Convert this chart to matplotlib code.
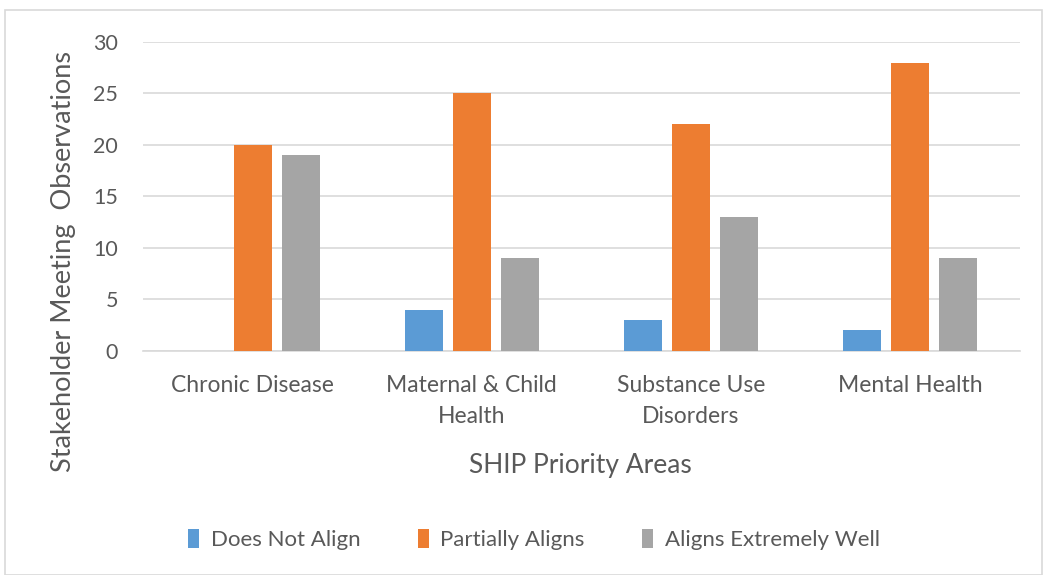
import numpy as np
import matplotlib.pyplot as plt
from matplotlib.patches import Rectangle

categories = ["Chronic Disease", "Maternal & Child\nHealth", "Substance Use\nDisorders", "Mental Health"]
series_names = ["Does Not Align", "Partially Aligns", "Aligns Extremely Well"]
does_not_align = [0, 4, 3, 2]
partially_aligns = [20, 25, 22, 28]
aligns_well = [19, 9, 13, 9]
colors = ["#5B9BD5", "#ED7D31", "#A5A5A5"]
txt = "#595959"

plt.rcParams['font.family'] = ['Lato', 'DejaVu Sans']

fig = plt.figure(figsize=(10.47, 5.75), dpi=100)
ax = fig.add_axes([0.1366, 0.3896, 0.8374, 0.5374])

x = np.arange(len(categories))
w = 0.173
pitch = 0.22
for i, (vals, name) in enumerate(zip([does_not_align, partially_aligns, aligns_well], series_names)):
    ax.bar(x + (i - 1) * pitch, vals, width=w, color=colors[i], label=name, zorder=3)

ax.set_xlim(-0.5, 3.5)
ax.set_ylim(0, 30)
ax.set_yticks(range(0, 31, 5))
ax.yaxis.grid(True, color="#D9D9D9", linewidth=1.2, zorder=0)
for s in ["top", "right", "left"]:
    ax.spines[s].set_visible(False)
ax.spines["bottom"].set_color("#D9D9D9")
ax.spines["bottom"].set_linewidth(1.2)
ax.tick_params(axis="both", length=0, colors=txt)
ax.tick_params(axis="y", pad=18, labelsize=15.5)
ax.tick_params(axis="x", pad=17, labelsize=16.5)
ax.set_xticks(x)
ax.set_xticklabels(categories, linespacing=1.6)

fig.text(580 / 1047, 1 - 465 / 575, "SHIP Priority Areas", color=txt, fontsize=19,
         ha="center", va="center")
ax.set_ylabel("Stakeholder Meeting  Observations", color=txt, fontsize=19.5)
ax.yaxis.set_label_coords(-0.076, 0.29)

ax.legend(loc="center", bbox_to_anchor=(0.51, 0.061), bbox_transform=fig.transFigure,
          ncol=3, frameon=False, fontsize=16, labelcolor=txt,
          handlelength=0.5, handleheight=0.9, handletextpad=0.5, columnspacing=2.6)

fig.patches.append(Rectangle((0.005, 0.0), 0.99, 0.982, transform=fig.transFigure,
                             fill=False, edgecolor="#D9D9D9", linewidth=1.2))

fig.savefig("out.png", dpi=100)
